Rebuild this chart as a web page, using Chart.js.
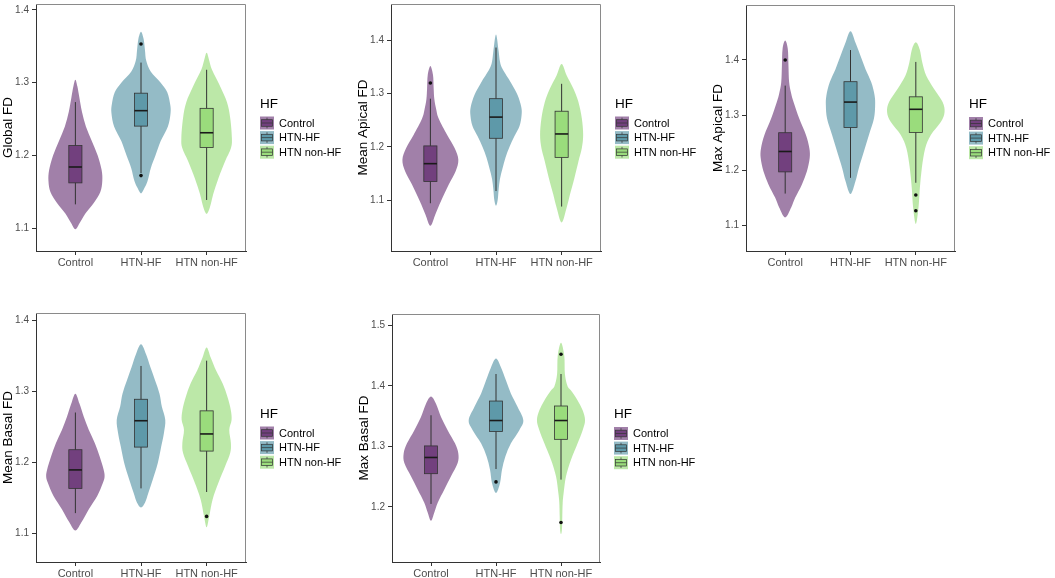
<!DOCTYPE html>
<html>
<head>
<meta charset="utf-8">
<script src="https://cdn.jsdelivr.net/npm/chart.js@4.4.1/dist/chart.umd.min.js"></script>
<style>
  body { margin: 0; background: #fff; width: 1055px; height: 578px; position: relative; overflow: hidden; }
  canvas { position: absolute; }
</style>
</head>
<body>
<canvas id="globalFD"></canvas>
<canvas id="meanApical"></canvas>
<canvas id="maxApical"></canvas>
<canvas id="meanBasal"></canvas>
<canvas id="maxBasal"></canvas>
<script>
const groups = ['Control', 'HTN-HF', 'HTN non-HF'];
const groupColors = ['#440154', '#2A788E', '#7AD151'];

// violin outlines: [value, half width in category units], top to bottom
const globalViolins = [
    [[1.304,0],[1.295,0.03],[1.28,0.06],[1.26,0.10],[1.24,0.16],[1.22,0.25],[1.20,0.34],[1.18,0.40],[1.165,0.41],[1.15,0.38],[1.135,0.28],[1.12,0.15],[1.108,0.07],[1.099,0]],
    [[1.37,0],[1.36,0.04],[1.345,0.06],[1.33,0.08],[1.315,0.15],[1.30,0.30],[1.287,0.40],[1.27,0.445],[1.258,0.45],[1.24,0.41],[1.22,0.30],[1.20,0.22],[1.183,0.15],[1.165,0.10],[1.155,0.05],[1.148,0]],
    [[1.341,0],[1.33,0.04],[1.318,0.08],[1.296,0.20],[1.273,0.31],[1.251,0.36],[1.224,0.385],[1.21,0.37],[1.192,0.28],[1.169,0.18],[1.147,0.10],[1.129,0.05],[1.12,0]]
];
const meanApicalViolins = [
    [[1.352,0],[1.335,0.04],[1.31,0.05],[1.29,0.06],[1.27,0.09],[1.253,0.128],[1.2225,0.256],[1.198,0.369],[1.176,0.426],[1.1545,0.385],[1.13,0.282],[1.099,0.164],[1.074,0.077],[1.0525,0]],
    [[1.411,0],[1.38,0.04],[1.36,0.06],[1.346,0.10],[1.32,0.23],[1.297,0.33],[1.275,0.385],[1.26,0.39],[1.24,0.36],[1.22,0.28],[1.2,0.205],[1.18,0.144],[1.16,0.10],[1.14,0.06],[1.12,0.04],[1.1,0.025],[1.09,0]],
    [[1.3555,0],[1.334,0.077],[1.309,0.18],[1.2843,0.256],[1.2534,0.308],[1.2225,0.328],[1.198,0.308],[1.173,0.256],[1.142,0.195],[1.1112,0.128],[1.0865,0.077],[1.0586,0]]
];
const maxApicalViolins = [
    [[1.435,0],[1.42,0.04],[1.39,0.05],[1.36,0.06],[1.34,0.09],[1.3237,0.128],[1.2939,0.215],[1.264,0.318],[1.24,0.37],[1.2223,0.375],[1.1985,0.333],[1.1746,0.256],[1.1507,0.154],[1.133,0.092],[1.115,0]],
    [[1.452,0],[1.431,0.077],[1.407,0.154],[1.3833,0.23],[1.3594,0.318],[1.3356,0.369],[1.3177,0.377],[1.294,0.359],[1.264,0.282],[1.234,0.205],[1.2044,0.128],[1.1806,0.077],[1.157,0]],
    [[1.432,0],[1.419,0.06],[1.395,0.10],[1.3714,0.16],[1.3475,0.28],[1.3237,0.41],[1.3058,0.44],[1.288,0.385],[1.264,0.23],[1.24,0.144],[1.2044,0.092],[1.1686,0.062],[1.133,0.041],[1.103,0]]
];
const meanBasalViolins = [
    [[1.2965,0],[1.2825,0.062],[1.264,0.128],[1.2454,0.205],[1.2268,0.297],[1.2083,0.369],[1.1897,0.43],[1.18,0.445],[1.1711,0.42],[1.1526,0.333],[1.134,0.205],[1.1154,0.092],[1.1038,0]],
    [[1.366,0],[1.352,0.077],[1.3336,0.144],[1.315,0.215],[1.2965,0.282],[1.2779,0.318],[1.2593,0.37],[1.2408,0.349],[1.2222,0.308],[1.199,0.256],[1.1758,0.18],[1.1572,0.113],[1.1433,0.062],[1.1363,0]],
    [[1.3615,0],[1.3475,0.062],[1.329,0.144],[1.3104,0.246],[1.2918,0.318],[1.2733,0.369],[1.2593,0.38],[1.2454,0.345],[1.2268,0.37],[1.2129,0.359],[1.1943,0.282],[1.1711,0.18],[1.1479,0.092],[1.1247,0.041],[1.1085,0]]
];
const maxBasalViolins = [
    [[1.3827,0],[1.3707,0.077],[1.3489,0.154],[1.327,0.256],[1.3052,0.369],[1.2889,0.42],[1.2725,0.41],[1.2507,0.308],[1.2289,0.205],[1.207,0.103],[1.1907,0.051],[1.177,0]],
    [[1.4455,0],[1.4307,0.077],[1.4089,0.154],[1.3871,0.23],[1.3652,0.333],[1.3434,0.42],[1.327,0.359],[1.3052,0.23],[1.2834,0.144],[1.2616,0.092],[1.2398,0.062],[1.2234,0]],
    [[1.4716,0],[1.45,0.05],[1.42,0.06],[1.4,0.1],[1.3925,0.154],[1.3762,0.256],[1.3598,0.333],[1.3434,0.37],[1.327,0.333],[1.3052,0.256],[1.278,0.154],[1.2507,0.077],[1.2234,0.041],[1.207,0.026],[1.1852,0.02],[1.1634,0.015],[1.155,0]]
];

// boxes: [lower whisker, Q1, median, Q3, upper whisker]
const globalBoxes = [[1.133,1.1625,1.1843,1.2137,1.2734],[1.176,1.2404,1.2616,1.2856,1.3276],[1.139,1.211,1.2313,1.2648,1.3177]];
const meanApicalBoxes = [[1.0945,1.1353,1.1687,1.202,1.2905],[1.1174,1.2163,1.256,1.2905,1.3864],[1.0883,1.1805,1.2244,1.267,1.3184]];
const maxApicalBoxes = [[1.158,1.1973,1.2342,1.2682,1.3535],[1.1865,1.2778,1.3237,1.3606,1.4179],[1.1776,1.2688,1.3106,1.3332,1.3964]];
const meanBasalBoxes = [[1.1284,1.1632,1.1892,1.2176,1.27],[1.1632,1.2213,1.2584,1.2886,1.3355],[1.1581,1.2157,1.2398,1.2723,1.3429]];
const maxBasalBoxes = [[1.205,1.255,1.2818,1.3009,1.3516],[1.2627,1.3249,1.3429,1.3751,1.4198],[1.2452,1.3118,1.3429,1.3669,1.4198]];

const globalOutliers = [[], [1.353, 1.1725], []];
const meanApicalOutliers = [[1.32], [], []];
const maxApicalOutliers = [[1.40], [], [1.1555, 1.1269]];
const meanBasalOutliers = [[], [], [1.1238]];
const maxBasalOutliers = [[], [1.2414], [1.4525, 1.1743]];

const lowTicks = [1.1, 1.2, 1.3, 1.4];
const highTicks = [1.2, 1.3, 1.4, 1.5];

Chart.defaults.font.family = 'Arial, "Liberation Sans", sans-serif';

function rgba(hex, a) {
    const n = parseInt(hex.slice(1), 16);
    return 'rgba(' + (n >> 16) + ',' + ((n >> 8) & 255) + ',' + (n & 255) + ',' + a + ')';
}

// closed catmull-rom curve through the outline points
function smoothClosed(ctx, pts) {
    const n = pts.length;
    ctx.beginPath();
    ctx.moveTo(pts[0][0], pts[0][1]);
    for (let k = 0; k < n; k++) {
        const p0 = pts[(k - 1 + n) % n], p1 = pts[k], p2 = pts[(k + 1) % n], p3 = pts[(k + 2) % n];
        ctx.bezierCurveTo(p1[0] + (p2[0] - p0[0]) / 6, p1[1] + (p2[1] - p0[1]) / 6,
                          p2[0] - (p3[0] - p1[0]) / 6, p2[1] - (p3[1] - p1[1]) / 6, p2[0], p2[1]);
    }
    ctx.closePath();
}

function violinPlugin(violins, boxes) {
    return {
        id: 'violins',
        beforeDatasetsDraw(chart) {
            const {ctx, chartArea, scales: {x, y}} = chart;
            ctx.save();
            ctx.beginPath();
            ctx.rect(chartArea.left, chartArea.top, chartArea.right - chartArea.left, chartArea.bottom - chartArea.top);
            ctx.clip();
            violins.forEach((profile, i) => {
                const right = profile.map(([v, w]) => [x.getPixelForValue(i + w), y.getPixelForValue(v)]);
                const left = profile.slice().reverse().map(([v, w]) => [x.getPixelForValue(i - w), y.getPixelForValue(v)]);
                smoothClosed(ctx, right.concat(left.slice(1, -1)));
                ctx.fillStyle = rgba(groupColors[i], 0.5);
                ctx.fill();
            });
            boxes.forEach(([lo, q1, med, q3, hi], i) => {
                const cx = x.getPixelForValue(i);
                const x0 = x.getPixelForValue(i - 0.1), x1 = x.getPixelForValue(i + 0.1);
                ctx.strokeStyle = '#333';
                ctx.lineWidth = 1;
                ctx.beginPath();
                ctx.moveTo(cx, y.getPixelForValue(hi));
                ctx.lineTo(cx, y.getPixelForValue(q3));
                ctx.moveTo(cx, y.getPixelForValue(q1));
                ctx.lineTo(cx, y.getPixelForValue(lo));
                ctx.stroke();
                const top = y.getPixelForValue(q3), bot = y.getPixelForValue(q1);
                ctx.fillStyle = rgba(groupColors[i], 0.5);
                ctx.fillRect(x0, top, x1 - x0, bot - top);
                ctx.lineWidth = 0.8;
                ctx.strokeRect(x0, top, x1 - x0, bot - top);
                ctx.strokeStyle = '#1a1a1a';
                ctx.lineWidth = 1.6;
                ctx.beginPath();
                ctx.moveTo(x0, y.getPixelForValue(med));
                ctx.lineTo(x1, y.getPixelForValue(med));
                ctx.stroke();
            });
            ctx.restore();
        }
    };
}

const framePlugin = {
    id: 'frame',
    afterDraw(chart) {
        const {ctx, chartArea: a} = chart;
        ctx.save();
        ctx.strokeStyle = '#8a8a8a';
        ctx.lineWidth = 1;
        ctx.beginPath();
        ctx.moveTo(a.left, a.top + 0.5);
        ctx.lineTo(a.right - 0.5, a.top + 0.5);
        ctx.lineTo(a.right - 0.5, a.bottom);
        ctx.stroke();

        // legend
        const lx = a.right + 14;
        const cy = (a.top + a.bottom) / 2;
        ctx.fillStyle = '#000';
        ctx.textBaseline = 'middle';
        ctx.textAlign = 'left';
        ctx.font = '13.5px Arial, "Liberation Sans", sans-serif';
        ctx.fillText('HF', lx, cy - 23.5);
        ctx.font = '11px Arial, "Liberation Sans", sans-serif';
        groups.forEach((g, i) => {
            const ky = cy - 4.5 + i * 14.6;
            const top = ky - 6.5, h = 13, w = 14;
            ctx.fillStyle = rgba(groupColors[i], 0.5);
            ctx.fillRect(lx, top, w, h);
            ctx.fillRect(lx + 1.5, top + 3.2, w - 3, h - 6.4);
            ctx.strokeStyle = '#333';
            ctx.lineWidth = 0.7;
            ctx.strokeRect(lx + 1.5, top + 3.2, w - 3, h - 6.4);
            ctx.beginPath();
            ctx.moveTo(lx + w / 2, top + 1.2);
            ctx.lineTo(lx + w / 2, top + 3.2);
            ctx.moveTo(lx + w / 2, top + h - 3.2);
            ctx.lineTo(lx + w / 2, top + h - 1.2);
            ctx.moveTo(lx + 1.5, ky);
            ctx.lineTo(lx + w - 1.5, ky);
            ctx.stroke();
            ctx.fillStyle = '#000';
            ctx.fillText(g, a.right + 33, ky + 0.5);
        });
        ctx.restore();
    }
};

function makePanel(id, frame, title, yRange, ticks, violins, boxes, outliers) {
    const [fl, ft, fw, fh] = frame;
    const canvas = document.getElementById(id);
    canvas.width = 36 + fw + 110;
    canvas.height = 1 + fh + 40;
    canvas.style.left = (fl - 36) + 'px';
    canvas.style.top = (ft - 1) + 'px';

    const points = [];
    outliers.forEach((vals, i) => vals.forEach(v => points.push({x: i, y: v})));

    new Chart(canvas.getContext('2d'), {
        type: 'scatter',
        data: {
            datasets: [{
                data: points,
                backgroundColor: '#111',
                borderWidth: 0,
                pointRadius: 1.8
            }]
        },
        options: {
            responsive: false,
            animation: false,
            layout: { padding: { top: 1, right: 110, left: 0, bottom: 0 } },
            plugins: {
                legend: { display: false },
                tooltip: { enabled: false }
            },
            scales: {
                x: {
                    type: 'linear',
                    min: -0.6,
                    max: 2.6,
                    afterBuildTicks: s => { s.ticks = groups.map((g, i) => ({ value: i })); },
                    afterFit: s => { s.height = 40; s.paddingLeft = 0; s.paddingRight = 0; },
                    ticks: {
                        color: '#4d4d4d',
                        font: { size: 11 },
                        padding: 1,
                        maxRotation: 0,
                        autoSkip: false,
                        callback: (v, i) => groups[i]
                    },
                    grid: { drawOnChartArea: false, drawTicks: true, tickLength: 4, color: '#333' },
                    border: { display: true, color: '#333', width: 1 }
                },
                y: {
                    type: 'linear',
                    min: yRange[0],
                    max: yRange[1],
                    afterBuildTicks: s => { s.ticks = ticks.map(v => ({ value: v })); },
                    afterFit: s => { s.width = 36; s.paddingTop = 0; s.paddingBottom = 0; },
                    ticks: {
                        color: '#4d4d4d',
                        font: { size: 10 },
                        padding: 3,
                        callback: v => v.toFixed(1)
                    },
                    grid: { drawOnChartArea: false, drawTicks: true, tickLength: 4, color: '#333' },
                    border: { display: true, color: '#333', width: 1 },
                    title: {
                        display: true,
                        text: title,
                        color: '#000',
                        font: { size: 13.5 },
                        padding: { top: 0.5, bottom: 0 }
                    }
                }
            }
        },
        plugins: [violinPlugin(violins, boxes), framePlugin]
    });
}

makePanel('globalFD', [36, 1, 210, 250], 'Global FD', [1.069, 1.408], lowTicks, globalViolins, globalBoxes, globalOutliers);
makePanel('meanApical', [391, 1, 210, 250], 'Mean Apical FD', [1.005, 1.468], lowTicks, meanApicalViolins, meanApicalBoxes, meanApicalOutliers);
makePanel('maxApical', [746, 2, 209, 249], 'Max Apical FD', [1.054, 1.4995], lowTicks, maxApicalViolins, maxApicalBoxes, maxApicalOutliers);
makePanel('meanBasal', [36, 310, 210, 252], 'Mean Basal FD', [1.0596, 1.41], lowTicks, meanBasalViolins, meanBasalBoxes, meanBasalOutliers);
makePanel('maxBasal', [392, 311, 208, 251], 'Max Basal FD', [1.109, 1.519], highTicks, maxBasalViolins, maxBasalBoxes, maxBasalOutliers);
</script>
</body>
</html>
